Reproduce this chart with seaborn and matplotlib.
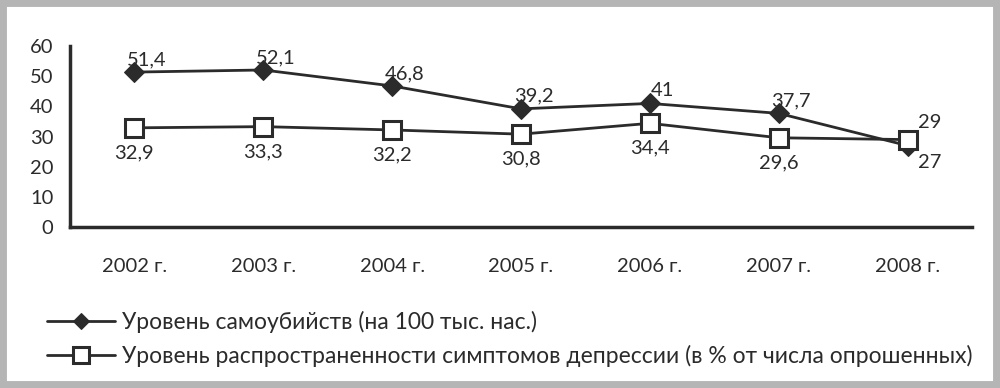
import matplotlib
matplotlib.use('Agg')
import matplotlib.pyplot as plt
import seaborn as sns
import pandas as pd
from matplotlib.patches import Rectangle

# ── Data ──────────────────────────────────────────────────────────────────────
years = ['2002 г.', '2003 г.', '2004 г.', '2005 г.', '2006 г.', '2007 г.', '2008 г.']
suicide = [51.4, 52.1, 46.8, 39.2, 41.0, 37.7, 27.0]
depression = [32.9, 33.3, 32.2, 30.8, 34.4, 29.6, 29.0]
suicide_labels = ['51,4', '52,1', '46,8', '39,2', '41', '37,7', '27']
depression_labels = ['32,9', '33,3', '32,2', '30,8', '34,4', '29,6', '29']
name_s = 'Уровень самоубийств (на 100 тыс. нас.)'
name_d = 'Уровень распространенности симптомов депрессии (в % от числа опрошенных)'

sns.set_theme(style='white')
plt.rcParams['font.family'] = ['Lato', 'DejaVu Sans']

DARK = '#2b2b2b'
FS = 14.5
df = pd.DataFrame({'x': range(len(years)), 's': suicide, 'd': depression})

fig = plt.figure(figsize=(10, 3.88), dpi=100)
ax = fig.add_axes([0.07, 0.415, 0.902, 0.466])

sns.lineplot(data=df, x='x', y='s', ax=ax, color=DARK, lw=2, marker='D',
             markersize=10, markerfacecolor=DARK, markeredgecolor=DARK,
             label=name_s)
sns.lineplot(data=df, x='x', y='d', ax=ax, color=DARK, lw=2, marker='s',
             markersize=13, markerfacecolor='white', markeredgecolor=DARK,
             markeredgewidth=2.2, label=name_d)

last = len(years) - 1
for i, (v, t) in enumerate(zip(suicide, suicide_labels)):
    off = (16, -12) if i == last else (9, 9)
    ax.annotate(t, (i, v), xytext=off, textcoords='offset points',
                ha='center', va='center', fontsize=FS, color=DARK)
for i, (v, t) in enumerate(zip(depression, depression_labels)):
    off = (16, 12) if i == last else (0, -18)
    ax.annotate(t, (i, v), xytext=off, textcoords='offset points',
                ha='center', va='center', fontsize=FS, color=DARK)

ax.set_xlim(-0.5, len(years) - 0.5)
ax.set_ylim(0, 60)
ax.set_yticks(range(0, 61, 10))
ax.set_xticks([i - 0.5 for i in range(len(years) + 1)])
ax.set_xticklabels([])
ax.set_xticks(range(len(years)), minor=True)
ax.set_xticklabels(years, minor=True)
ax.tick_params(axis='x', which='major', direction='out', length=6, width=2, color=DARK)
ax.tick_params(axis='x', which='minor', length=0, pad=22, labelsize=FS, labelcolor=DARK)
ax.tick_params(axis='y', direction='out', length=6, width=2, color=DARK,
               labelsize=FS, labelcolor=DARK, pad=6)
ax.set_xlabel('')
ax.set_ylabel('')
for side in ['top', 'right']:
    ax.spines[side].set_visible(False)
for side in ['left', 'bottom']:
    ax.spines[side].set_linewidth(2.5)
    ax.spines[side].set_color(DARK)

leg = ax.legend(loc='center left', bbox_to_anchor=(-0.036, -0.62), frameon=False,
                fontsize=16.5, handlelength=3.0, handletextpad=0.3, labelspacing=0.55,
                borderaxespad=0, labelcolor=DARK, markerscale=0.85)

fig.patches.append(Rectangle((0, 0), 1, 1, transform=fig.transFigure,
                             fill=False, edgecolor='#b5b5b5', lw=10, zorder=10))

fig.savefig('out.png', dpi=100, facecolor='white')
